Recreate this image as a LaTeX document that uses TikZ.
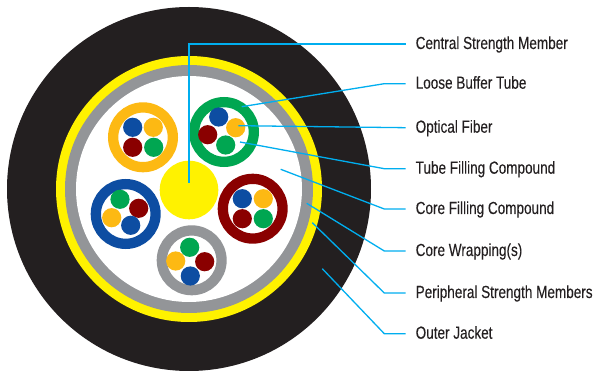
\documentclass[tikz,border=0pt]{standalone}
\usepackage{fontspec}
\newfontfamily\labelfont[FakeStretch=0.774,FakeBold=0.15]{Liberation Sans}
\definecolor{jacketblack}{RGB}{35,31,32}
\definecolor{cableyellow}{RGB}{255,242,0}
\definecolor{wrapgray}{RGB}{147,149,152}
\definecolor{fibblue}{RGB}{13,77,162}
\definecolor{fibred}{RGB}{138,0,0}
\definecolor{fibgreen}{RGB}{0,166,81}
\definecolor{fiborange}{RGB}{253,185,19}
\definecolor{leadercyan}{RGB}{0,174,239}

\begin{document}
\begin{tikzpicture}[
  x=1pt, y=-1pt,
  layer/.style={circle, inner sep=0pt, outer sep=0pt},
  tube/.style={circle, draw, line width=10.3pt, fill=white, minimum size=59.7pt, inner sep=0pt},
  fibre/.style={circle, minimum size=19.2pt, inner sep=0pt},
  lbl/.style={anchor=west, inner xsep=10pt, inner ysep=0pt, outer sep=0pt, text height=13pt, text depth=3pt, text=jacketblack, font=\labelfont\fontsize{17.5}{19}\selectfont},
  leader/.style={draw=leadercyan, line width=1.3pt}
]
  \useasboundingbox (0,0) rectangle (595,371);
  % cable cross section
  \node[layer, fill=jacketblack, minimum size=364pt] (jacket) at (189,189) {};
  \node[layer, fill=cableyellow, minimum size=266pt] (periph) at (189,189) {};
  \node[layer, fill=wrapgray, minimum size=248pt] (wrap) at (189,189) {};
  \node[layer, fill=white, minimum size=226pt] (core) at (189,189) {};
  \node[layer, fill=cableyellow, minimum size=58.6pt] (centre) at (189,190) {};
  % tubes
  \node[tube, draw=fiborange] (tubeA) at (143,137.3) {};
  \node[tube, draw=fibgreen] (tubeB) at (224,132) {};
  \node[tube, draw=fibred] (tubeC) at (252.7,208.7) {};
  \node[tube, draw=fibblue] (tubeD) at (125.7,214) {};
  \node[tube, draw=wrapgray] (tubeE) at (191.7,260.3) {};
  % fibres
  \node[fibre, fill=fibblue] (fibA1) at (132.7,127.3) {};
  \node[fibre, fill=fiborange] (fibA2) at (153.3,127.3) {};
  \node[fibre, fill=fibred] (fibA3) at (132.7,147.3) {};
  \node[fibre, fill=fibgreen] (fibA4) at (153.7,147.3) {};
  \node[fibre, fill=fibblue] (fibB1) at (218.7,117) {};
  \node[fibre, fill=fiborange] (fibB2) at (235.7,127.7) {};
  \node[fibre, fill=fibred] (fibB3) at (207.7,134.7) {};
  \node[fibre, fill=fibgreen] (fibB4) at (225.7,145) {};
  \node[fibre, fill=fibblue] (fibC1) at (242.3,198.7) {};
  \node[fibre, fill=fiborange] (fibC2) at (263.3,198.7) {};
  \node[fibre, fill=fibred] (fibC3) at (242.3,218.7) {};
  \node[fibre, fill=fibgreen] (fibC4) at (263.3,218.7) {};
  \node[fibre, fill=fibgreen] (fibD1) at (120,199.3) {};
  \node[fibre, fill=fibred] (fibD2) at (138.7,208.3) {};
  \node[fibre, fill=fiborange] (fibD3) at (111.7,217.7) {};
  \node[fibre, fill=fibblue] (fibD4) at (130.7,225.3) {};
  \node[fibre, fill=fibgreen] (fibE1) at (189.7,247.3) {};
  \node[fibre, fill=fibred] (fibE2) at (204.7,261.7) {};
  \node[fibre, fill=fiborange] (fibE3) at (175.7,261) {};
  \node[fibre, fill=fibblue] (fibE4) at (190.3,276) {};
  % labels
  \node[lbl] (lblcsm) at (405.7,44) {Central Strength Member};
  \node[lbl] (lbltube) at (405.7,83.7) {Loose Buffer Tube};
  \node[lbl] (lblfib) at (405.7,127.7) {Optical Fiber};
  \node[lbl] (lbltfc) at (405.7,168.7) {Tube Filling Compound};
  \node[lbl] (lblcfc) at (405.7,209) {Core Filling Compound};
  \node[lbl] (lblwrap) at (405.7,251) {Core Wrapping(s)};
  \node[lbl] (lblpsm) at (405.7,293) {Peripheral Strength Members};
  \node[lbl] (lbljacket) at (405.7,333.7) {Outer Jacket};
  % leader lines
  \coordinate (csmtip) at (189,182.7);
  \coordinate (tubetip) at (241.7,106.7);
  \coordinate (fibtip) at (238.3,125.7);
  \coordinate (tfctip) at (240,142);
  \coordinate (cfctip) at (280.7,169.3);
  \coordinate (wraptip) at (306.7,203.3);
  \coordinate (psmtip) at (312.3,222.7);
  \coordinate (jackettip) at (322.3,268.7);
  \draw[leader] (csmtip) |- (lblcsm.west);
  \draw[leader] (tubetip) -- (384.3,83.7) -- (lbltube.west);
  \draw[leader] (fibtip) -- (lblfib.west);
  \draw[leader] (tfctip) -- (384.3,168.7) -- (lbltfc.west);
  \draw[leader] (cfctip) -- (384.3,209) -- (lblcfc.west);
  \draw[leader] (wraptip) -- (384.3,251) -- (lblwrap.west);
  \draw[leader] (psmtip) -- (384.3,293) -- (lblpsm.west);
  \draw[leader] (jackettip) -- (384.3,333.7) -- (lbljacket.west);
\end{tikzpicture}
\end{document}
